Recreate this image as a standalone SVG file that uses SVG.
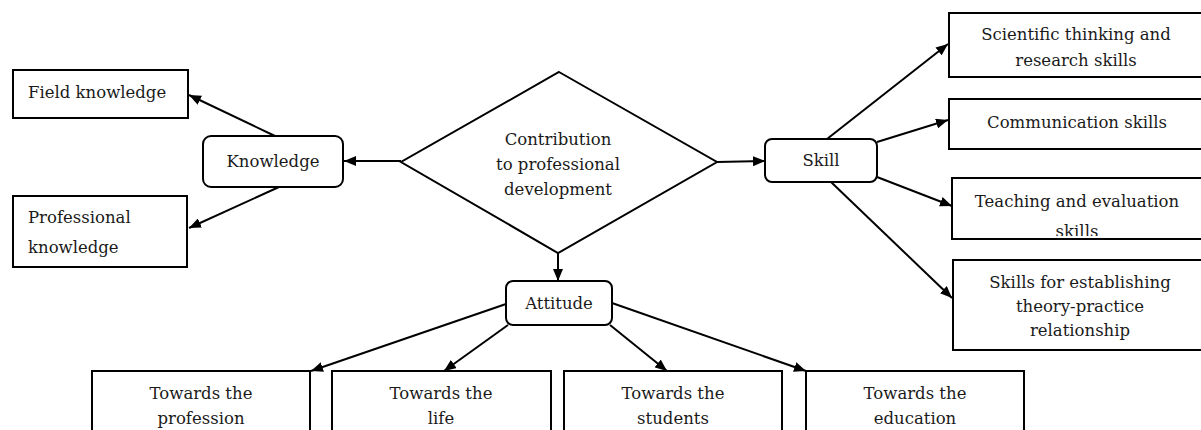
<svg xmlns="http://www.w3.org/2000/svg" width="1201" height="430" viewBox="0 0 1201 430">
  <style>
    .box { fill: #fff; stroke: #000; stroke-width: 2; }
    .rbox { fill: #fff; stroke: #000; stroke-width: 2; }
    .lbl { font-family: "DejaVu Serif", "Liberation Serif", serif; font-size: 16.5px; fill: #1a1a1a; }
    .c { text-anchor: middle; }
    .edge { stroke: #000; stroke-width: 2; fill: none; marker-end: url(#arrow); }
  </style>
  <defs>
    <marker id="arrow" viewBox="0 0 12 10" refX="12" refY="5" markerWidth="12" markerHeight="10" markerUnits="userSpaceOnUse" orient="auto">
      <path d="M0,0 L12,5 L0,10 Z" fill="#000"/>
    </marker>
    <clipPath id="teachClip">
      <rect x="952" y="178" width="260" height="58"/>
    </clipPath>
  </defs>
  <rect width="1201" height="430" fill="#fff"/>

  <!-- connectors -->
  <g id="connectors">
    <line class="edge" x1="401" y1="161" x2="344" y2="161"/>
    <line class="edge" x1="275" y1="136" x2="189" y2="95"/>
    <line class="edge" x1="279" y1="187" x2="189" y2="228"/>
    <line class="edge" x1="717" y1="162" x2="765" y2="161"/>
    <line class="edge" x1="827" y1="139" x2="948" y2="44"/>
    <line class="edge" x1="877" y1="142" x2="948" y2="120"/>
    <line class="edge" x1="877" y1="177" x2="952" y2="206"/>
    <line class="edge" x1="831" y1="182" x2="952" y2="298"/>
    <line class="edge" x1="558" y1="253" x2="558" y2="281"/>
    <line class="edge" x1="506" y1="304" x2="311" y2="371"/>
    <line class="edge" x1="508" y1="325" x2="444" y2="371"/>
    <line class="edge" x1="610" y1="325" x2="667" y2="371"/>
    <line class="edge" x1="612" y1="303" x2="806" y2="371"/>
  </g>

  <!-- central decision node -->
  <g id="contribution">
    <polygon class="box" points="559,72 717,162 558,253 401,162"/>
    <text class="lbl c" x="558" y="145">Contribution</text>
    <text class="lbl c" x="558" y="170">to professional</text>
    <text class="lbl c" x="558" y="195">development</text>
  </g>

  <!-- knowledge branch -->
  <g id="knowledge">
    <rect class="rbox" x="203" y="136" width="140" height="51" rx="8"/>
    <text class="lbl c" x="273" y="167">Knowledge</text>
  </g>
  <g id="field-knowledge">
    <rect class="box" x="13" y="70" width="175" height="48"/>
    <text class="lbl" x="28" y="98">Field knowledge</text>
  </g>
  <g id="professional-knowledge">
    <rect class="box" x="13" y="196" width="174" height="71"/>
    <text class="lbl" x="28" y="223">Professional</text>
    <text class="lbl" x="28" y="253">knowledge</text>
  </g>

  <!-- skill branch -->
  <g id="skill">
    <rect class="rbox" x="765" y="139" width="112" height="43" rx="7"/>
    <text class="lbl c" x="821" y="166">Skill</text>
  </g>
  <g id="scientific-thinking">
    <rect class="box" x="949" y="13" width="262" height="64"/>
    <text class="lbl c" x="1076" y="40">Scientific thinking and</text>
    <text class="lbl c" x="1076" y="66">research skills</text>
  </g>
  <g id="communication">
    <rect class="box" x="949" y="99" width="262" height="50"/>
    <text class="lbl c" x="1077" y="128">Communication skills</text>
  </g>
  <g id="teaching">
    <rect class="box" x="952" y="178" width="259" height="61"/>
    <text class="lbl c" x="1077" y="207">Teaching and evaluation</text>
    <!-- second line runs past the box edge and is cut by it -->
    <text class="lbl c" x="1077" y="237" clip-path="url(#teachClip)">skills</text>
  </g>
  <g id="theory-practice">
    <rect class="box" x="953" y="260" width="258" height="90"/>
    <text class="lbl c" x="1080" y="288">Skills for establishing</text>
    <text class="lbl c" x="1080" y="312">theory-practice</text>
    <text class="lbl c" x="1080" y="336">relationship</text>
  </g>

  <!-- attitude branch -->
  <g id="attitude">
    <rect class="rbox" x="506" y="281" width="106" height="44" rx="7"/>
    <text class="lbl c" x="559" y="309">Attitude</text>
  </g>
  <g id="towards-profession">
    <rect class="box" x="92" y="371" width="218" height="70"/>
    <text class="lbl c" x="201" y="399">Towards the</text>
    <text class="lbl c" x="201" y="424">profession</text>
  </g>
  <g id="towards-life">
    <rect class="box" x="332" y="371" width="219" height="70"/>
    <text class="lbl c" x="441" y="399">Towards the</text>
    <text class="lbl c" x="441" y="424">life</text>
  </g>
  <g id="towards-students">
    <rect class="box" x="564" y="371" width="218" height="70"/>
    <text class="lbl c" x="673" y="399">Towards the</text>
    <text class="lbl c" x="673" y="424">students</text>
  </g>
  <g id="towards-education">
    <rect class="box" x="806" y="371" width="218" height="70"/>
    <text class="lbl c" x="915" y="399">Towards the</text>
    <text class="lbl c" x="915" y="424">education</text>
  </g>
</svg>
